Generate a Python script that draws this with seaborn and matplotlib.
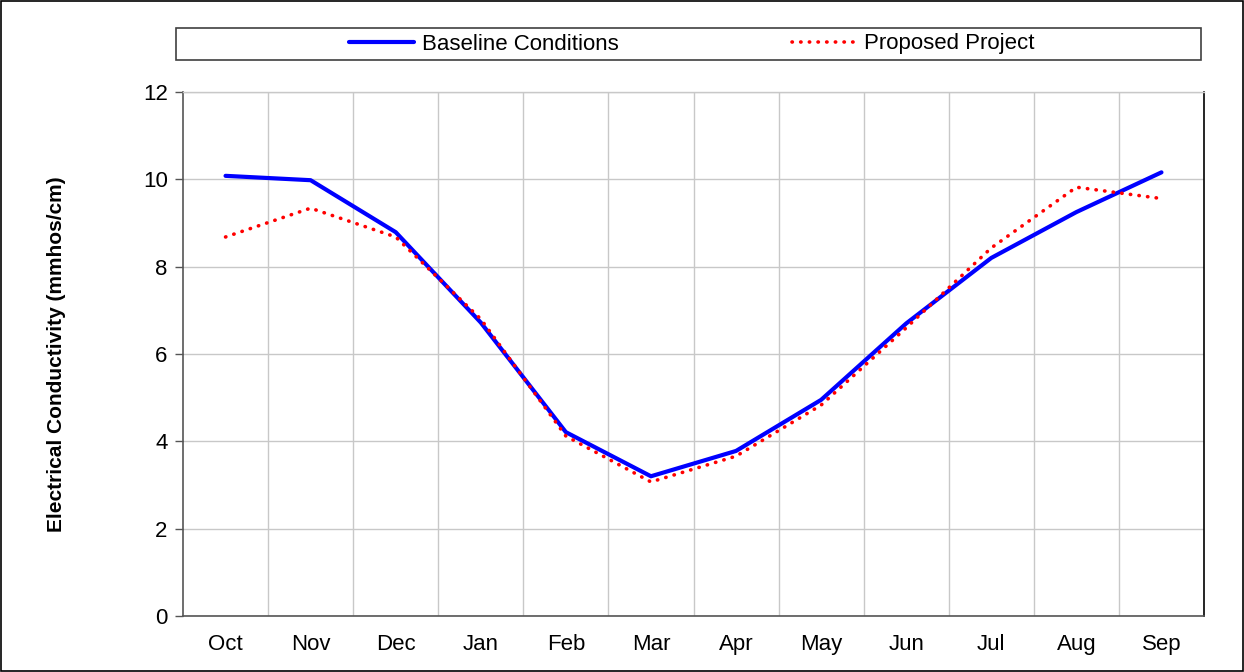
import matplotlib
matplotlib.use("Agg")
import matplotlib.pyplot as plt
import seaborn as sns
import pandas as pd
from matplotlib.patches import Rectangle
from matplotlib.ticker import FixedLocator

months = ["Oct", "Nov", "Dec", "Jan", "Feb", "Mar", "Apr", "May", "Jun", "Jul", "Aug", "Sep"]
baseline = [10.08, 9.98, 8.79, 6.72, 4.21, 3.20, 3.78, 4.95, 6.70, 8.20, 9.25, 10.16]
proposed = [8.68, 9.34, 8.68, 6.80, 4.12, 3.07, 3.66, 4.83, 6.60, 8.43, 9.82, 9.56]
y_ticks = [0, 2, 4, 6, 8, 10, 12]

sns.set_theme(style="white")
plt.rcParams['font.family'] = ['Liberation Sans', 'DejaVu Sans']
plt.rcParams['text.color'] = 'black'
plt.rcParams['axes.labelcolor'] = 'black'

fig = plt.figure(figsize=(12.44, 6.72), dpi=100)
ax = fig.add_axes([183/1244, 1-616/672, (1204-183)/1244, (616-92)/672])

x = list(range(len(months)))
df_b = pd.DataFrame({"x": x, "v": baseline})
df_p = pd.DataFrame({"x": x, "v": proposed})

sns.lineplot(data=df_b, x="x", y="v", ax=ax, color="#0000ff", linewidth=3.0,
             label="Baseline Conditions", zorder=3)
sns.lineplot(data=df_p, x="x", y="v", ax=ax, color="#ff0000", linewidth=2.6,
             linestyle=(0, (0.1, 2.3)),
             label="Proposed Project", zorder=4)
ax.get_lines()[1].set_dash_capstyle("round")

ax.set_xlim(-0.5, 11.5)
ax.set_ylim(0, 12)
ax.set_xticks(x)
ax.set_xticklabels(months)
ax.xaxis.set_minor_locator(FixedLocator([i + 0.5 for i in range(11)]))
ax.set_yticks(y_ticks)
ax.set_yticklabels([str(t) for t in y_ticks])
ax.grid(False)
ax.grid(which="minor", axis="x", color="#c8c8c8", linewidth=1.0)
ax.grid(which="major", axis="y", color="#c8c8c8", linewidth=1.0)
ax.set_axisbelow(True)

ax.tick_params(axis="x", which="both", length=0, pad=13, labelsize=16, colors="black")
ax.tick_params(axis="y", which="major", length=6, width=1, direction="out", left=True,
               pad=5, labelsize=16, colors="#555555", labelcolor="black")

for s in ["left", "bottom"]:
    ax.spines[s].set_color("#555555")
    ax.spines[s].set_linewidth(1.2)
ax.spines["right"].set_color("black")
ax.spines["right"].set_linewidth(1.2)
ax.spines["top"].set_color("#c8c8c8")
ax.spines["top"].set_linewidth(1.0)

ax.set_xlabel("")
ax.set_ylabel("Electrical Conductivity (mmhos/cm)", fontsize=15, fontweight="bold",
              labelpad=55, color="black")

ax.get_legend().remove()
handles, labels = ax.get_legend_handles_labels()

# legend frame
fig.patches.append(Rectangle((176/1244, 1-60/672), (1201-176)/1244, 32/672,
                             transform=fig.transFigure, fill=False,
                             edgecolor="#404040", linewidth=1.2))
leg = fig.legend(handles, labels, loc="center", bbox_to_anchor=(692/1244, 1-44/672),
                 ncol=2, frameon=False, fontsize=16, handlelength=2.9,
                 columnspacing=7.8, handletextpad=0.35)

# outer figure border
fig.patches.append(Rectangle((1/1244, 1/672), 1242/1244, 670/672,
                             transform=fig.transFigure, fill=False,
                             edgecolor="black", linewidth=1.2))

fig.savefig("out.png", dpi=100)
